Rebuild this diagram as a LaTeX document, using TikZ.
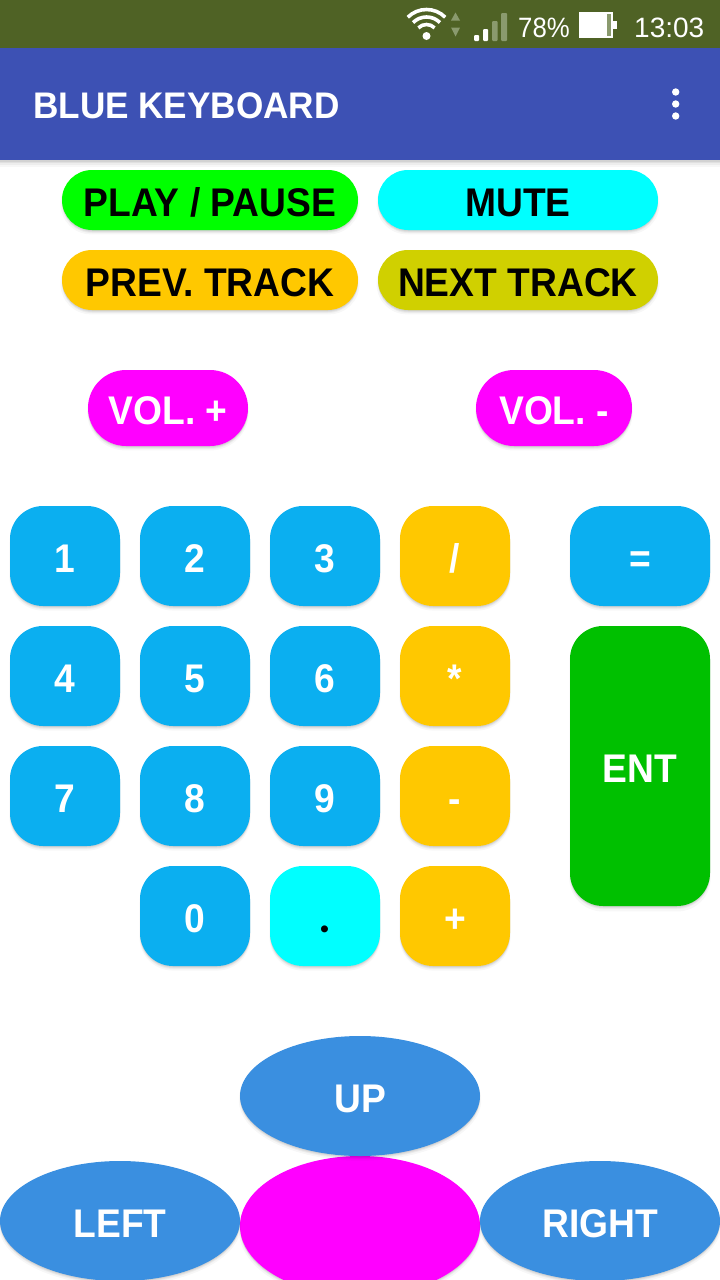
\documentclass[tikz,border=0pt]{standalone}
\usepackage{fontspec}
\setmainfont{Liberation Sans}[FakeStretch=0.93]
\newfontfamily\plainface{Liberation Sans}
\newfontfamily\narrowface{Liberation Sans}[FakeStretch=0.92]
\newfontfamily\titleface{Liberation Sans Bold}[FakeStretch=0.95]
\newfontfamily\dotface{Lato Bold}
\usetikzlibrary{shapes.geometric,shadows}
\definecolor{statusbar}{HTML}{4F6225}
\definecolor{statusdim}{HTML}{8A9A6E}
\definecolor{appbar}{HTML}{3D51B4}
\definecolor{keyblue}{HTML}{0BAFF0}
\definecolor{keyorange}{HTML}{FFC800}
\definecolor{keygreen}{HTML}{00C000}
\definecolor{keylime}{HTML}{00FF00}
\definecolor{keyolive}{HTML}{D0D000}
\definecolor{keycyan}{HTML}{00FFFF}
\definecolor{keymagenta}{HTML}{FF00FF}
\definecolor{padblue}{HTML}{3A8FE0}
\tikzset{
  softshadow/.style={
    general shadow={shadow xshift=0pt,shadow yshift=-4pt,shadow scale=1.01,fill=black,opacity=.03,draw=none},
    general shadow={shadow xshift=0pt,shadow yshift=-3pt,fill=black,opacity=.04,draw=none},
    general shadow={shadow xshift=0pt,shadow yshift=-2pt,fill=black,opacity=.05,draw=none},
    general shadow={shadow xshift=0pt,shadow yshift=-1pt,fill=black,opacity=.06,draw=none}},
  base/.style={softshadow,draw=none,inner sep=0pt,outer sep=0pt,text height=32pt,text depth=0pt,
    font=\bfseries\fontsize{40}{40}\selectfont},
  pill/.style={base,rectangle,rounded corners=30pt,minimum height=60pt,text=black},
  vol/.style={base,rectangle,rounded corners=38pt,minimum height=76pt,fill=keymagenta,text=white},
  numkey/.style={base,rectangle,rounded corners=33pt,minimum width=110pt,minimum height=100pt,text=white},
  bluekey/.style={numkey,fill=keyblue},
  orangekey/.style={numkey,fill=keyorange},
  padkey/.style={base,ellipse,minimum width=240pt,minimum height=120pt,text=white},
  statustext/.style={inner sep=0pt,text=white,anchor=base west,font=\plainface\fontsize{28}{28}\selectfont},
  dimmark/.style={fill=statusdim,draw=none},
  whitemark/.style={fill=white,draw=none}
}
\begin{document}
\begin{tikzpicture}[x=1pt,y=-1pt]
\useasboundingbox (0,0) rectangle (720,1280);
\clip (0,0) rectangle (720,1280);
\fill[white] (0,0) rectangle (720,1280);
% app bar shadow
\foreach \h/\o in {7/.03,5/.04,3/.05,1.5/.06}{\fill[black,opacity=\o] (0,160) rectangle (720,160+\h);}
\fill[statusbar] (0,0) rectangle (720,48);
\fill[appbar] (0,48) rectangle (720,160);
% status icons
\fill[white] (426.5,36) circle (4);
\foreach \r in {11.5,19,26.5}{
  \draw[white,line width=3.6pt] (426.5-\r*0.7071,36-\r*0.7071) arc[start angle=225,end angle=315,radius=\r];
}
\fill[dimmark] (455.5,12.5) -- (460,20.5) -- (451,20.5) -- cycle;
\fill[dimmark] (455.5,36.5) -- (460,27.5) -- (451,27.5) -- cycle;
\fill[whitemark,rounded corners=1pt] (474,35) rectangle (479,41);
\fill[whitemark,rounded corners=1pt] (483,29) rectangle (488,41);
\fill[dimmark,rounded corners=1pt] (492,21) rectangle (497.5,41);
\fill[dimmark,rounded corners=1pt] (501,13) rectangle (507,41);
\node[statustext,font=\narrowface\fontsize{28}{28}\selectfont] (battery) at (518,37) {78\%};
\fill[whitemark] (579,12) rectangle (613,38);
\fill[whitemark] (613,21) rectangle (617,29);
\fill[dimmark] (607,14) rectangle (610.5,36);
\node[statustext] (clock) at (634,37) {13:03};
% title
\node[inner sep=0pt,anchor=base west,text=white,font=\titleface\fontsize{37}{37}\selectfont] (title) at (33,118.5) {BLUE KEYBOARD};
\foreach \yy in {92,104,116}{\fill[white] (675.7,\yy) circle (3.7);}
% media
\node[pill,fill=keylime,minimum width=296pt] (play) at (210,200) {PLAY / PAUSE};
\node[pill,fill=keycyan,minimum width=280pt] (mute) at (518,200) {MUTE};
\node[pill,fill=keyorange,minimum width=296pt] (prev) at (210,280) {PREV. TRACK};
\node[pill,fill=keyolive,minimum width=280pt] (next) at (518,280) {NEXT TRACK};
\node[vol,minimum width=160pt] (volup) at (168,408) {VOL. +};
\node[vol,minimum width=156pt] (voldown) at (554,408) {VOL. -};
% keypad
\node[bluekey] (k1) at (65,556) {1};
\node[bluekey] (k2) at (195,556) {2};
\node[bluekey] (k3) at (325,556) {3};
\node[orangekey] (kdiv) at (455,556) {/};
\node[numkey,fill=keyblue,minimum width=140pt] (keq) at (640,556) {=};
\node[bluekey] (k4) at (65,676) {4};
\node[bluekey] (k5) at (195,676) {5};
\node[bluekey] (k6) at (325,676) {6};
\node[orangekey] (kmul) at (455,676) {*};
\node[bluekey] (k7) at (65,796) {7};
\node[bluekey] (k8) at (195,796) {8};
\node[bluekey] (k9) at (325,796) {9};
\node[orangekey] (kminus) at (455,796) {-};
\node[bluekey] (k0) at (195,916) {0};
\node[numkey,fill=keycyan,text=black,font=\dotface\fontsize{46}{46}\selectfont] (kdot) at (325,916) {.};
\node[orangekey] (kplus) at (455,916) {+};
\node[numkey,fill=keygreen,minimum width=140pt,minimum height=280pt] (kent) at (640,766) {ENT};
% d-pad
\node[padkey,fill=keymagenta,minimum height=140pt] (center) at (360,1226) {};
\node[padkey,fill=padblue] (up) at (360,1096) {UP};
\node[padkey,fill=padblue] (left) at (120,1221) {LEFT};
\node[padkey,fill=padblue] (right) at (600,1221) {RIGHT};
\end{tikzpicture}
\end{document}
